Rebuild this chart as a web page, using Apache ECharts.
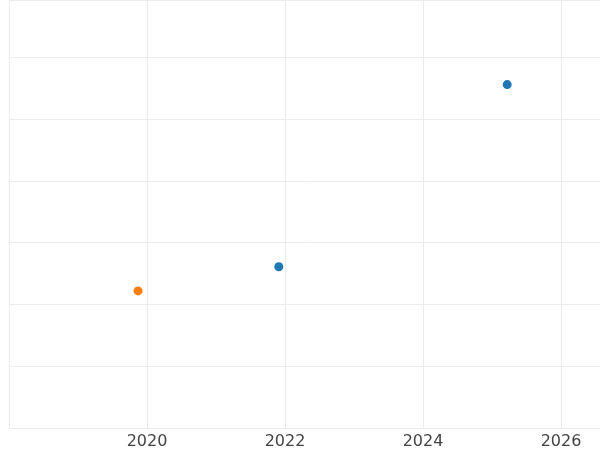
<!DOCTYPE html>
<html><head><meta charset="utf-8">
<script src="https://cdn.jsdelivr.net/npm/echarts@6/dist/echarts.min.js"></script>
<style>html,body{margin:0;padding:0;background:#fff}#c{width:600px;height:450px}</style>
</head><body><div id="c"></div>
<script>
const blueX = [2021.91, 2025.22];
const blueY = [2.61, 5.56];
const orangeX = [2019.87];
const orangeY = [2.22];
const chart = echarts.init(document.getElementById('c'));
chart.setOption({
  animation:false,
  grid:{left:9,right:0,top:0,bottom:22,containLabel:false},
  xAxis:{type:'value',min:2018,max:2026.565,interval:2,
    axisLine:{show:false},axisTick:{show:false},
    axisLabel:{showMinLabel:false,showMaxLabel:false,color:'#444',fontSize:16,margin:6,fontFamily:'DejaVu Sans',formatter:v=>String(v)},
    splitLine:{lineStyle:{color:'#ebebeb',width:1}}},
  yAxis:{type:'value',min:0,max:6.93,interval:1,
    axisLine:{show:false},axisTick:{show:false},axisLabel:{show:false},
    splitLine:{lineStyle:{color:'#ebebeb',width:1}}},
  series:[
    {type:'scatter',symbolSize:9,itemStyle:{color:'#1f77b4',opacity:1},data:blueX.map((x,i)=>[x,blueY[i]])},
    {type:'scatter',symbolSize:9,itemStyle:{color:'#ff7f0e',opacity:1},data:orangeX.map((x,i)=>[x,orangeY[i]])}
  ]
});
</script></body></html>
